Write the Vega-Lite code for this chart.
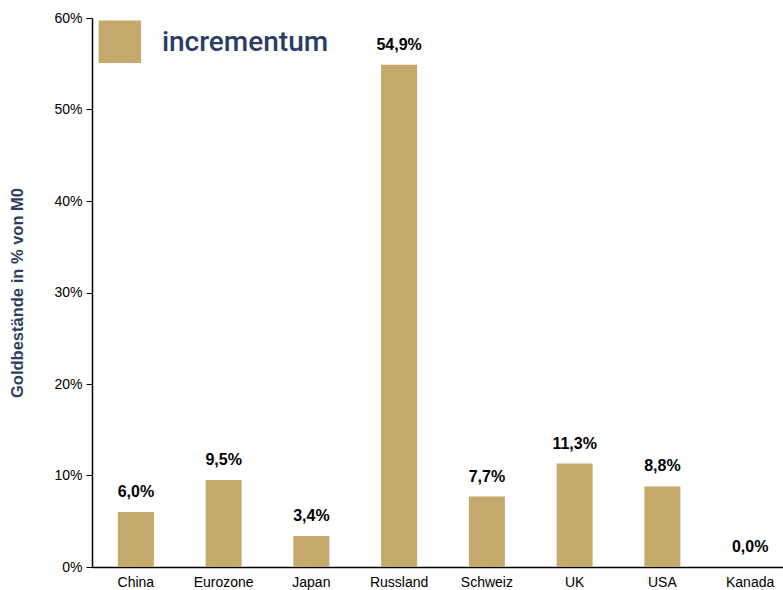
{
  "$schema": "https://vega.github.io/schema/vega-lite/v6.json",
  "width": 702,
  "height": 549,
  "autosize": {"type": "none"},
  "padding": {"left": 92, "top": 18, "right": 0, "bottom": 23},
  "background": "white",
  "config": {
    "view": {"stroke": null},
    "font": "Liberation Sans",
    "locale": {"number": {"decimal": ",", "thousands": ".", "grouping": [3], "currency": ["", " €"]}}
  },
  "data": {
    "values": [
      {"land": "China", "wert": 0.060},
      {"land": "Eurozone", "wert": 0.095},
      {"land": "Japan", "wert": 0.034},
      {"land": "Russland", "wert": 0.549},
      {"land": "Schweiz", "wert": 0.077},
      {"land": "UK", "wert": 0.113},
      {"land": "USA", "wert": 0.088},
      {"land": "Kanada", "wert": 0.0}
    ]
  },
  "encoding": {
    "x": {
      "field": "land", "type": "nominal", "sort": null,
      "scale": {"paddingInner": 0.59, "paddingOuter": 0.295},
      "axis": {"title": null, "labelAngle": 0, "ticks": false, "labelPadding": 8, "labelFontSize": 14, "labelColor": "#000", "domainColor": "#000", "domainWidth": 1.5}
    },
    "y": {
      "field": "wert", "type": "quantitative",
      "scale": {"domain": [0, 0.6]},
      "axis": {"title": "Goldbestände in % von M0", "titleFontSize": 16.5, "titleFontWeight": "bold", "titleColor": "#2E3F5E", "titlePadding": 28, "format": ".0%", "values": [0, 0.1, 0.2, 0.3, 0.4, 0.5, 0.6], "labelOverlap": false, "grid": false, "labelFontSize": 14, "labelColor": "#000", "domainColor": "#000", "domainWidth": 1.5, "tickColor": "#000", "tickSize": 6, "labelPadding": 4}
    }
  },
  "layer": [
    {"mark": {"type": "bar", "color": "#C4A96B"}},
    {
      "mark": {"type": "text", "baseline": "bottom", "dy": -12, "fontSize": 16, "fontWeight": "bold", "color": "#000"},
      "encoding": {"text": {"field": "wert", "type": "quantitative", "format": ".1%"}}
    },
    {
      "data": {"values": [{"land": "China", "wert": 0.573, "t": "incrementum"}]},
      "mark": {"type": "text", "align": "left", "baseline": "middle", "dx": 26, "fontSize": 28, "fontWeight": 500, "font": "Roboto", "color": "#2B3D66"},
      "encoding": {"text": {"field": "t"}}
    },
    {
      "data": {"values": [{"land": "China", "wert": 0.574}]},
      "mark": {"type": "point", "shape": "square", "filled": true, "opacity": 1, "size": 1800, "color": "#C4A96B", "xOffset": -16},
      "encoding": {}
    }
  ]
}
